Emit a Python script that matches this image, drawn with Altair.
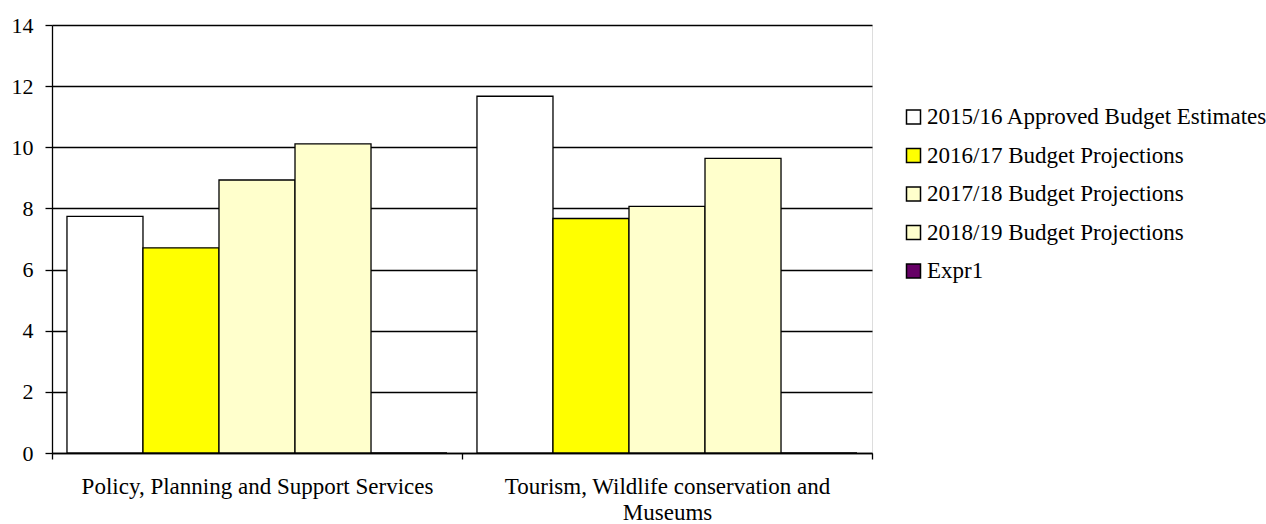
import altair as alt
import pandas as pd

categories = ["Policy, Planning and Support Services",
              "Tourism, Wildlife conservation and Museums"]
series = ["2015/16 Approved Budget Estimates",
          "2016/17 Budget Projections",
          "2017/18 Budget Projections",
          "2018/19 Budget Projections",
          "Expr1"]
values_2015 = [7.74, 11.67]
values_2016 = [6.71, 7.67]
values_2017 = [8.93, 8.07]
values_2018 = [10.11, 9.64]
values_expr1 = [0, 0]
colors = ["#FFFFFF", "#FFFF00", "#FFFFCC", "#FFFFCC", "#660066"]

all_values = [values_2015, values_2016, values_2017, values_2018, values_expr1]
rows = []
for s, vals in zip(series, all_values):
    for c, v in zip(categories, vals):
        rows.append({"category": c, "series": s, "value": v})
df = pd.DataFrame(rows)

FONT = "Liberation Serif"

label_expr = ("datum.label == 'Tourism, Wildlife conservation and Museums' ? "
              "['Tourism, Wildlife conservation and', 'Museums'] : datum.label")

chart = alt.Chart(df).mark_bar(stroke="black", strokeWidth=1.3).encode(
    x=alt.X("category:N", sort=categories,
            scale=alt.Scale(paddingInner=0, paddingOuter=0),
            axis=alt.Axis(title=None, labelAngle=0, tickBand="extent",
                          labelExpr=label_expr, labelFont=FONT, labelFontSize=23,
                          labelColor="black", labelLimit=0, labelLineHeight=26.5,
                          labelPadding=16, tickSize=6, tickColor="black",
                          tickWidth=1.3, domainColor="black", domainWidth=1.3,
                          grid=False)),
    xOffset=alt.XOffset("series:N", sort=series,
                        scale=alt.Scale(domain=series, paddingInner=0, paddingOuter=0.197)),
    y=alt.Y("value:Q", scale=alt.Scale(domain=[0, 14], nice=False),
            axis=alt.Axis(title=None, values=[0, 2, 4, 6, 8, 10, 12, 14],
                          labelFont=FONT, labelFontSize=22, labelColor="black",
                          labelPadding=12, tickSize=7, tickColor="black",
                          tickWidth=1.3, domainColor="black", domainWidth=1.3,
                          grid=True, gridColor="black", gridWidth=1.3,
                          gridOpacity=1)),
    color=alt.Color("series:N", sort=series,
                    scale=alt.Scale(domain=series, range=colors),
                    legend=alt.Legend(title=None, orient="none", legendX=850, legendY=80.5,
                                      symbolType="square", symbolSize=196,
                                      symbolStrokeColor="black", symbolStrokeWidth=1.5,
                                      symbolOpacity=1,
                                      labelFont=FONT, labelFontSize=23, labelColor="black",
                                      labelLimit=500, labelOffset=2, rowPadding=14.5)),
).properties(
    width=820, height=428,
    autosize=alt.AutoSizeParams(type="none"),
    padding={"left": 52, "top": 25, "right": 394, "bottom": 71},
).configure_view(stroke=None).configure(background="white")

chart.save("out.html", embed_options={"renderer": "svg", "actions": False})
